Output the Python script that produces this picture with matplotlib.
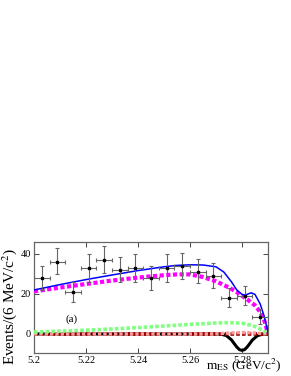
import numpy as np
import matplotlib
matplotlib.use("Agg")
import matplotlib.pyplot as plt

plt.rcParams['font.family'] = ['Liberation Serif', 'DejaVu Serif']
plt.rcParams['mathtext.fontset'] = 'stix'

# data points (6 MeV bins)
bin_x = [5.203, 5.209, 5.215, 5.221, 5.227, 5.233, 5.239, 5.245,
         5.251, 5.257, 5.263, 5.269, 5.275, 5.281, 5.287]
events = [27.8, 35.8, 20.8, 33.0, 36.8, 31.8, 32.8, 27.8,
          32.8, 34.0, 30.8, 29.0, 17.8, 19.0, 8.3]
err_lo = [5.8, 6.0, 4.6, 6.8, 6.1, 6.0, 6.6, 5.8, 6.6, 6.7, 5.5, 6.2, 4.5, 4.5, 3.5]
err_hi = [6.4, 7.0, 5.4, 6.8, 7.4, 6.9, 7.0, 6.4, 7.0, 6.7, 6.5, 6.3, 5.4, 5.0, 4.0]
half_bin = 0.003

# fit curves
curve_x = [5.200, 5.210, 5.220, 5.230, 5.240, 5.250, 5.255, 5.260, 5.265, 5.270,
           5.273, 5.276, 5.278, 5.280, 5.281, 5.282, 5.2835, 5.285, 5.287, 5.2885, 5.290]
total = [22.0, 24.7, 27.2, 29.5, 31.7, 33.6, 34.3, 34.6, 34.5, 33.6,
         31.0, 26.0, 22.0, 19.8, 19.5, 19.8, 20.6, 19.8, 15.0, 9.0, 1.0]
argus = [21.3, 23.2, 25.0, 26.7, 28.2, 29.4, 29.8, 29.8, 28.5, 26.3,
         24.5, 22.5, 20.9, 19.2, 18.2, 17.3, 15.8, 14.3, 11.0, 7.0, 0.5]

green_x = [5.200, 5.210, 5.220, 5.230, 5.240, 5.250, 5.260, 5.270, 5.275,
           5.280, 5.284, 5.286, 5.288, 5.290]
green_y = [1.0, 1.4, 1.9, 2.5, 3.2, 4.0, 4.8, 5.5, 5.7, 5.4, 4.2, 3.2, 1.8, 0.0]

sig_x = [5.200, 5.270, 5.272, 5.274, 5.276, 5.277, 5.278, 5.279, 5.280,
         5.281, 5.282, 5.283, 5.284, 5.286, 5.288, 5.290]
sig_y = [0.0, 0.0, -0.1, -0.8, -3.0, -4.8, -6.5, -7.8, -8.2,
         -7.8, -6.5, -4.8, -3.0, -0.8, -0.1, 0.0]

peak_x = [5.200, 5.268, 5.270, 5.274, 5.278, 5.280, 5.282, 5.286, 5.290]
peak_y = [0.0, 0.0, 0.1, 0.4, 0.7, 0.75, 0.7, 0.4, 0.1]

flat_x = [5.200, 5.290]
flat_y = [0.0, 0.0]

fig = plt.figure(figsize=(2.91, 3.76), dpi=100)
ax = fig.add_axes([0.1168, 0.0612, 0.8041, 0.2952])

ax.plot(sig_x, sig_y, color='black', lw=2.2, zorder=3)
ax.plot(flat_x, flat_y, color='#990000', lw=2.6, ls=(0, (1, 0.6)), zorder=4)
ax.plot(peak_x, peak_y, color='#ff9999', lw=2.4, ls=(0, (1, 0.6)), zorder=4)
ax.plot(green_x, green_y, color='#80ff80', lw=2.6, ls=(0, (1, 0.6)), zorder=4)
ax.plot(curve_x, argus, color='#ff00ff', lw=3.0, ls=(0, (1, 0.6)), zorder=4)
ax.plot(curve_x, total, color='#0000ff', lw=1.1, zorder=5)

ax.errorbar(bin_x, events, yerr=[err_lo, err_hi], xerr=half_bin, fmt='s',
            color='black', ms=2.1, ecolor='#666666', elinewidth=0.8,
            capsize=1.5, capthick=0.8, zorder=6)

ax.text(5.2146, 7.5, '(a)', fontsize=8, ha='center', va='center')

ax.set_xlim(5.2, 5.29)
ax.set_ylim(-9.5, 46)
ax.set_xticks([5.2, 5.22, 5.24, 5.26, 5.28])
ax.set_xticklabels(['5.2', '5.22', '5.24', '5.26', '5.28'])
ax.set_yticks([0, 20, 40])
ax.tick_params(direction='in', length=3.5, width=0.7, labelsize=7.5,
               top=True, right=True, color='#444444', pad=2)
for s in ax.spines.values():
    s.set_color('#666666')
    s.set_linewidth(0.9)

fig.text(0.034, 0.186, 'Events/(6 MeV/c$^2$)', rotation=90, fontsize=11,
         ha='center', va='center')
fig.text(0.968, 0.028, 'm$_{\\rm ES}$ (GeV/c$^2$)', fontsize=9.5,
         ha='right', va='center')

fig.savefig('out.png', dpi=100)
